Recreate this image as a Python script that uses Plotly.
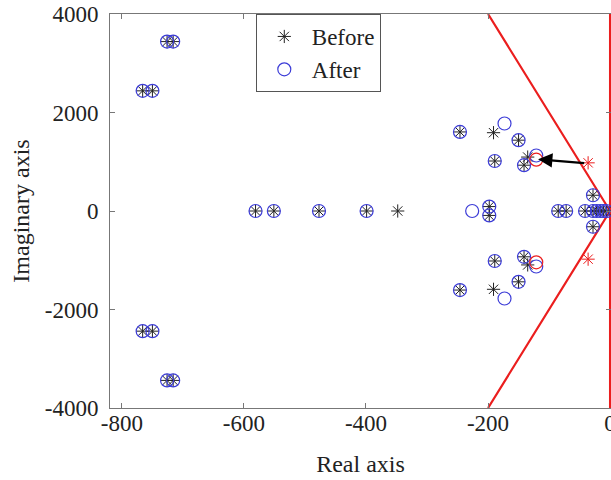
import plotly.graph_objects as go

# Poles present in both cases (upper half-plane and real axis); lower half mirrored
both_x_upper = [-726, -716, -766, -750, -246, -150, -189, -141, -28]
both_y_upper = [3440, 3440, 2440, 2440, 1605, 1438, 1015, 930, 320]
both_x_real = [-581, -551, -477, -399, -198, -198, -85, -72, -41, -28, -22, -16, -11, -6]
both_y_real = [0, 0, 0, 0, 90, -90, 0, 0, 0, 0, 0, 0, 0, 0]

before_only_x = [-191, -191, -348, -135, -135]
before_only_y = [1590, -1590, 0, 1095, -1095]
after_only_x = [-173, -173, -226, -121, -121]
after_only_y = [1777, -1777, 0, 1127, -1127]

red_before_x = [-36, -36]
red_before_y = [978, -978]
red_after_x = [-121, -121]
red_after_y = [1042, -1042]

arrow_from = (-40, 968)
arrow_to = (-118, 1050)

damping_x = [-200, 0, -200]
damping_y = [4000, 0, -4000]
imag_x = [0, 0]
imag_y = [-4000, 4000]

x_ticks = [-800, -600, -400, -200, 0]
y_ticks = [-4000, -2000, 0, 2000, 4000]

both_x = both_x_upper + both_x_upper + both_x_real
both_y = both_y_upper + [-v for v in both_y_upper] + both_y_real
before_x = both_x + before_only_x
before_y = both_y + before_only_y
after_x = both_x + after_only_x
after_y = both_y + after_only_y

FONT = "Liberation Serif, Times New Roman, serif"
BLUE = "rgb(60,60,215)"
RED = "rgb(235,30,30)"

fig = go.Figure()
fig.add_trace(go.Scatter(x=damping_x, y=damping_y, mode="lines",
                         line=dict(color=RED, width=2.2), showlegend=False, hoverinfo="skip"))
fig.add_trace(go.Scatter(x=imag_x, y=imag_y, mode="lines",
                         line=dict(color=RED, width=2.2), showlegend=False, hoverinfo="skip"))
fig.add_trace(go.Scatter(x=before_x, y=before_y, mode="markers", name="Before",
                         marker=dict(symbol="asterisk-open", size=11, color="#222",
                                     line=dict(color="#222", width=1))))
fig.add_trace(go.Scatter(x=after_x, y=after_y, mode="markers", name="After",
                         marker=dict(symbol="circle-open", size=13, color=BLUE,
                                     line=dict(color=BLUE, width=1.2))))
fig.add_trace(go.Scatter(x=red_before_x, y=red_before_y, mode="markers", showlegend=False,
                         marker=dict(symbol="asterisk-open", size=11, color=RED,
                                     line=dict(color=RED, width=1))))
fig.add_trace(go.Scatter(x=red_after_x, y=red_after_y, mode="markers", showlegend=False,
                         marker=dict(symbol="circle-open", size=13, color=RED,
                                     line=dict(color=RED, width=1.2))))

fig.add_annotation(x=arrow_to[0], y=arrow_to[1], ax=arrow_from[0], ay=arrow_from[1],
                   xref="x", yref="y", axref="x", ayref="y", text="", showarrow=True,
                   arrowhead=2, arrowsize=1.3, arrowwidth=2.2, arrowcolor="black")

axis_common = dict(showline=True, linecolor="#777", linewidth=1, mirror="ticks",
                   ticks="inside", ticklen=5, tickcolor="#777", showgrid=False,
                   zeroline=False, automargin=False, ticklabeloverflow="allow",
                   tickfont=dict(family=FONT, size=23, color="#222"))

fig.update_layout(
    width=611, height=480,
    margin=dict(l=110, r=0, t=14, b=72),
    paper_bgcolor="white", plot_bgcolor="white",
    font=dict(family=FONT, size=23, color="#222"),
    xaxis=dict(range=[-819.5, 1.5], tickvals=x_ticks, ticktext=[str(v) for v in x_ticks],
               title=dict(text="Real axis", font=dict(family=FONT, size=24, color="#222"), standoff=20),
               ticklabelstandoff=-6, **axis_common),
    yaxis=dict(range=[-4000, 4000], tickvals=y_ticks, ticktext=[str(v) for v in y_ticks],
               title=dict(text="Imaginary axis", font=dict(family=FONT, size=24, color="#222"), standoff=8),
               ticklabelstandoff=6, **axis_common),
    legend=dict(x=0.291, y=1.0, xanchor="left", yanchor="top", bgcolor="white",
                bordercolor="#555", borderwidth=1, font=dict(family=FONT, size=23, color="#222"),
                tracegroupgap=0, itemwidth=45),
    showlegend=True,
)

fig.write_html("out.html", config={"displayModeBar": False},
               post_script="document.body.style.margin='0';")
